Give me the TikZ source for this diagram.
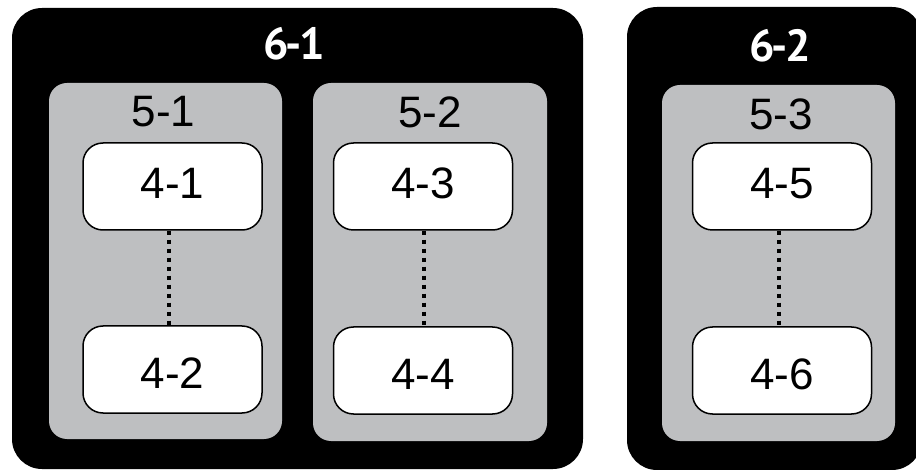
\documentclass[tikz,border=0pt]{standalone}
\usepackage{fontspec}
\setmainfont{Liberation Sans}
\newfontfamily\titlefont{PT Sans}
\definecolor{panelgray}{RGB}{190,191,193}
\newcommand{\tightdash}{\kern-3pt-\kern-3pt}
\begin{document}
\begin{tikzpicture}[x=1pt,y=-1pt,
  outerbox/.style={fill=black, rounded corners=30pt, inner sep=0pt},
  groupbox/.style={fill=panelgray, rounded corners=18pt, inner sep=0pt},
  leaf/.style={draw=black, line width=1.5pt, fill=white, rounded corners=20pt,
    minimum width=179pt, minimum height=87pt, inner sep=0pt,
    font=\fontsize{44}{44}\selectfont},
  upperleaf/.style={leaf, text depth=6pt},
  lowerleaf/.style={leaf, text height=38pt},
  grouplabel/.style={font=\fontsize{44}{44}\selectfont, inner sep=0pt},
  boxtitle/.style={text=white, inner sep=0pt,
    font=\titlefont\bfseries\fontsize{45}{45}\selectfont},
  link/.style={line width=4pt, dash pattern=on 4pt off 5pt}]
\useasboundingbox (0,0) rectangle (916,470);

% outer black containers
\node[outerbox, minimum width=571pt, minimum height=461pt] (g61) at (297.5,238.5) {};
\node[outerbox, minimum width=295pt, minimum height=463pt] (g62) at (774.5,238.5) {};
\node[boxtitle] (t61) at (294,44) {6\tightdash1};
\node[boxtitle] (t62) at (780,46) {6\tightdash2};

% gray groups
\node[groupbox, minimum width=233pt, minimum height=356pt] (g51) at (165.5,261) {};
\node[groupbox, minimum width=234pt, minimum height=358pt] (g52) at (430,262) {};
\node[groupbox, minimum width=233pt, minimum height=356pt] (g53) at (778.5,263) {};
\node[grouplabel] (t51) at (163.5,112) {5-1};
\node[grouplabel] (t52) at (430,112) {5-2};
\node[grouplabel] (t53) at (781,114) {5-3};

% white leaves
\node[upperleaf] (n41) at (172.5,186.5) {4-1};
\node[lowerleaf] (n42) at (172.5,369.5) {4-2};
\node[upperleaf] (n43) at (423,186.5) {4-3};
\node[lowerleaf] (n44) at (423,370.5) {4-4};
\node[upperleaf] (n45) at (782,186.5) {4-5};
\node[lowerleaf] (n46) at (782,370.5) {4-6};

% dotted links
\draw[link] ([xshift=-3.5pt]n41.south) -- ([xshift=-3.5pt]n42.north);
\draw[link] ([xshift=1pt]n43.south) -- ([xshift=1pt]n44.north);
\draw[link] ([xshift=-3pt]n45.south) -- ([xshift=-3pt]n46.north);
\end{tikzpicture}
\end{document}
